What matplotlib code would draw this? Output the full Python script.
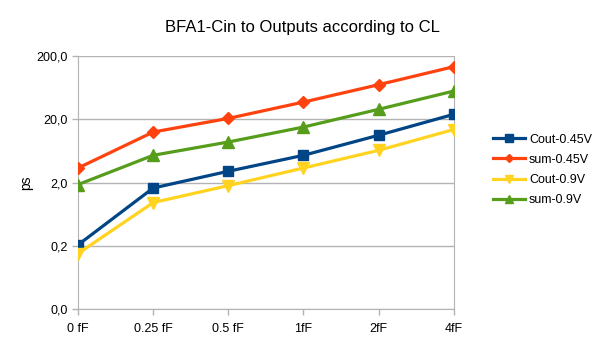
import matplotlib
matplotlib.use("Agg")
import matplotlib.pyplot as plt
from matplotlib.ticker import FuncFormatter, NullLocator

plt.rcParams["font.family"] = ["Liberation Sans", "DejaVu Sans"]

categories = ["0 fF", "0.25 fF", "0.5 fF", "1fF", "2fF", "4fF"]
cout_045 = [0.207, 1.64, 3.02, 5.40, 11.2, 24.0]
sum_045 = [3.40, 12.6, 20.7, 37.5, 70.6, 136.0]
cout_09 = [0.151, 0.966, 1.79, 3.40, 6.47, 13.8]
sum_09 = [1.86, 5.40, 8.76, 15.1, 28.8, 56.0]
y_ticks = [0.02, 0.2, 2, 20, 200]

series = [
    ("Cout-0.45V", cout_045, "#004586", "s", 7),
    ("sum-0.45V", sum_045, "#ff420e", "D", 6),
    ("Cout-0.9V", cout_09, "#ffd320", "v", 8),
    ("sum-0.9V", sum_09, "#579d1c", "^", 8),
]

fig = plt.figure(figsize=(6.05, 3.4), dpi=100)
ax = fig.add_axes([0.129, 0.091, 0.621, 0.744])

x = list(range(len(categories)))
for label, vals, color, marker, ms in series:
    ax.plot(x, vals, color=color, lw=2.3, marker=marker, markersize=ms,
            label=label, zorder=3)

ax.set_yscale("log")
ax.set_ylim(0.02, 200)
ax.set_xlim(0, len(categories) - 1)
ax.set_yticks(y_ticks)
ax.yaxis.set_minor_locator(NullLocator())
ax.yaxis.set_major_formatter(FuncFormatter(lambda v, _: f"{v:.1f}".replace(".", ",")))
ax.set_xticks(x)
ax.set_xticklabels(categories)

ax.grid(axis="y", color="#b3b3b3", lw=1)
ax.spines["top"].set_visible(False)
for side in ("left", "bottom", "right"):
    ax.spines[side].set_color("#b3b3b3")
ax.tick_params(axis="both", colors="#b3b3b3", labelcolor="black", labelsize=9,
               length=4, width=1)
ax.tick_params(axis="x", pad=6)

ax.set_ylabel("ps", fontsize=10, labelpad=2)
fig.text(0.5, 0.92, "BFA1-Cin to Outputs according to CL", ha="center",
         va="center", fontsize=12)

ax.legend(loc="center left", bbox_to_anchor=(1.104, 0.55), frameon=False,
          fontsize=9, handlelength=2.6, handletextpad=0.3, labelspacing=0.65,
          borderpad=0, borderaxespad=0, markerscale=0.75)

fig.savefig("out.png", dpi=100, facecolor="white")
